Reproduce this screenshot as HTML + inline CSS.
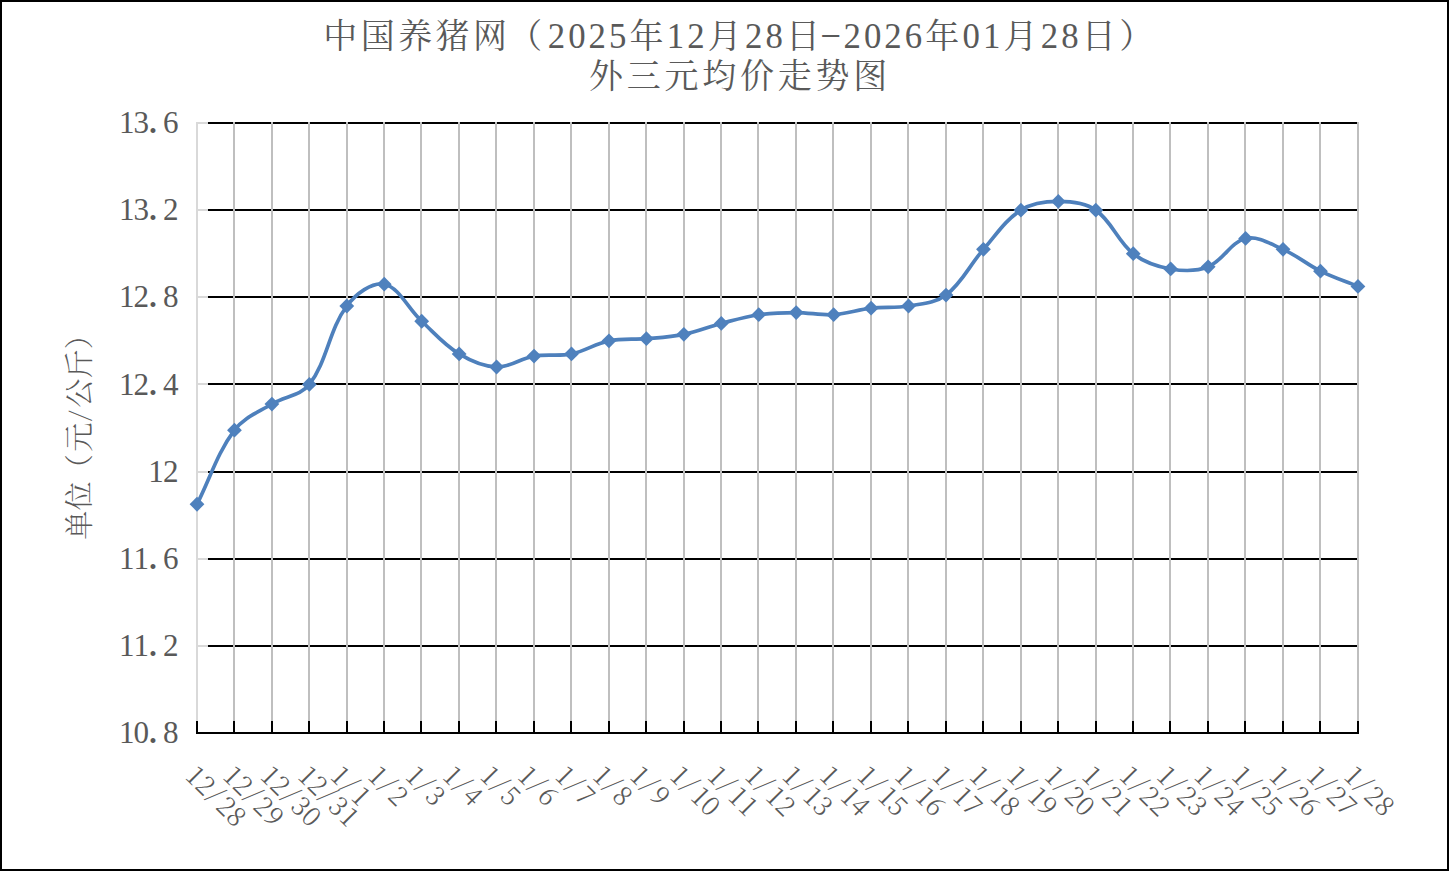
<!DOCTYPE html>
<html lang="zh"><head><meta charset="utf-8"><title>外三元均价走势图</title>
<style>html,body{margin:0;padding:0;background:#fff;}svg{display:block;}text{font-family:"Liberation Serif","Noto Serif CJK SC",serif;fill:#595959;}</style></head><body>
<svg width="1449" height="872" viewBox="0 0 1449 872">
<rect x="0" y="0" width="1449" height="872" fill="#fff"/>
<rect x="1" y="1" width="1447" height="869" fill="none" stroke="#000" stroke-width="2"/>
<rect x="208" y="122" width="1150" height="2" fill="#000"/><rect x="198" y="122" width="10" height="2" fill="#d9d9d9"/><rect x="208" y="209" width="1150" height="2" fill="#000"/><rect x="198" y="209" width="10" height="2" fill="#d9d9d9"/><rect x="208" y="296" width="1150" height="2" fill="#000"/><rect x="198" y="296" width="10" height="2" fill="#d9d9d9"/><rect x="208" y="383" width="1150" height="2" fill="#000"/><rect x="198" y="383" width="10" height="2" fill="#d9d9d9"/><rect x="208" y="471" width="1150" height="2" fill="#000"/><rect x="198" y="471" width="10" height="2" fill="#d9d9d9"/><rect x="208" y="558" width="1150" height="2" fill="#000"/><rect x="198" y="558" width="10" height="2" fill="#d9d9d9"/><rect x="208" y="645" width="1150" height="2" fill="#000"/><rect x="198" y="645" width="10" height="2" fill="#d9d9d9"/>
<rect x="233" y="122" width="2" height="599" fill="#bfbfbf"/><rect x="271" y="122" width="2" height="599" fill="#bfbfbf"/><rect x="308" y="122" width="2" height="599" fill="#bfbfbf"/><rect x="346" y="122" width="2" height="599" fill="#bfbfbf"/><rect x="383" y="122" width="2" height="599" fill="#bfbfbf"/><rect x="420" y="122" width="2" height="599" fill="#bfbfbf"/><rect x="458" y="122" width="2" height="599" fill="#bfbfbf"/><rect x="495" y="122" width="2" height="599" fill="#bfbfbf"/><rect x="533" y="122" width="2" height="599" fill="#bfbfbf"/><rect x="570" y="122" width="2" height="599" fill="#bfbfbf"/><rect x="608" y="122" width="2" height="599" fill="#bfbfbf"/><rect x="645" y="122" width="2" height="599" fill="#bfbfbf"/><rect x="683" y="122" width="2" height="599" fill="#bfbfbf"/><rect x="720" y="122" width="2" height="599" fill="#bfbfbf"/><rect x="757" y="122" width="2" height="599" fill="#bfbfbf"/><rect x="795" y="122" width="2" height="599" fill="#bfbfbf"/><rect x="832" y="122" width="2" height="599" fill="#bfbfbf"/><rect x="870" y="122" width="2" height="599" fill="#bfbfbf"/><rect x="907" y="122" width="2" height="599" fill="#bfbfbf"/><rect x="945" y="122" width="2" height="599" fill="#bfbfbf"/><rect x="982" y="122" width="2" height="599" fill="#bfbfbf"/><rect x="1020" y="122" width="2" height="599" fill="#bfbfbf"/><rect x="1057" y="122" width="2" height="599" fill="#bfbfbf"/><rect x="1095" y="122" width="2" height="599" fill="#bfbfbf"/><rect x="1132" y="122" width="2" height="599" fill="#bfbfbf"/><rect x="1169" y="122" width="2" height="599" fill="#bfbfbf"/><rect x="1207" y="122" width="2" height="599" fill="#bfbfbf"/><rect x="1244" y="122" width="2" height="599" fill="#bfbfbf"/><rect x="1282" y="122" width="2" height="599" fill="#bfbfbf"/><rect x="1319" y="122" width="2" height="599" fill="#bfbfbf"/><rect x="1357" y="122" width="2" height="599" fill="#bfbfbf"/>
<rect x="196" y="122" width="2" height="599" fill="#d9d9d9"/>
<rect x="196" y="732" width="1163" height="2" fill="#000"/><rect x="196" y="721" width="2" height="12" fill="#000"/><rect x="233" y="721" width="2" height="12" fill="#000"/><rect x="271" y="721" width="2" height="12" fill="#000"/><rect x="308" y="721" width="2" height="12" fill="#000"/><rect x="346" y="721" width="2" height="12" fill="#000"/><rect x="383" y="721" width="2" height="12" fill="#000"/><rect x="420" y="721" width="2" height="12" fill="#000"/><rect x="458" y="721" width="2" height="12" fill="#000"/><rect x="495" y="721" width="2" height="12" fill="#000"/><rect x="533" y="721" width="2" height="12" fill="#000"/><rect x="570" y="721" width="2" height="12" fill="#000"/><rect x="608" y="721" width="2" height="12" fill="#000"/><rect x="645" y="721" width="2" height="12" fill="#000"/><rect x="683" y="721" width="2" height="12" fill="#000"/><rect x="720" y="721" width="2" height="12" fill="#000"/><rect x="757" y="721" width="2" height="12" fill="#000"/><rect x="795" y="721" width="2" height="12" fill="#000"/><rect x="832" y="721" width="2" height="12" fill="#000"/><rect x="870" y="721" width="2" height="12" fill="#000"/><rect x="907" y="721" width="2" height="12" fill="#000"/><rect x="945" y="721" width="2" height="12" fill="#000"/><rect x="982" y="721" width="2" height="12" fill="#000"/><rect x="1020" y="721" width="2" height="12" fill="#000"/><rect x="1057" y="721" width="2" height="12" fill="#000"/><rect x="1095" y="721" width="2" height="12" fill="#000"/><rect x="1132" y="721" width="2" height="12" fill="#000"/><rect x="1169" y="721" width="2" height="12" fill="#000"/><rect x="1207" y="721" width="2" height="12" fill="#000"/><rect x="1244" y="721" width="2" height="12" fill="#000"/><rect x="1282" y="721" width="2" height="12" fill="#000"/><rect x="1319" y="721" width="2" height="12" fill="#000"/><rect x="1357" y="721" width="2" height="12" fill="#000"/>
<path d="M197.00 504.25C210.48 477.58 217.06 453.45 234.45 430.18C244.02 417.37 257.90 412.59 271.90 404.04C284.86 396.12 300.53 395.98 309.35 384.43C327.49 360.68 328.81 330.08 346.80 306.00C355.77 294.00 372.08 281.74 384.25 284.21C399.04 287.23 407.83 308.34 421.70 321.25C434.79 333.43 444.15 344.77 459.15 353.93C471.12 361.24 483.00 366.60 496.60 367.00C509.97 367.39 520.31 358.51 534.05 356.11C547.27 353.80 558.39 356.60 571.50 353.93C585.36 351.11 595.09 343.68 608.95 340.86C622.06 338.19 632.95 339.85 646.40 338.68C659.92 337.50 670.60 337.02 683.85 334.32C697.56 331.53 707.72 326.98 721.30 323.43C734.69 319.92 745.10 316.70 758.75 314.71C772.07 312.78 782.72 312.54 796.20 312.54C809.68 312.54 820.26 315.49 833.65 314.71C847.22 313.92 857.53 309.76 871.10 308.18C884.49 306.62 895.33 308.31 908.55 306.00C922.29 303.60 935.28 303.21 946.00 295.11C962.25 282.82 969.39 265.31 983.45 249.36C996.35 234.72 1005.12 220.24 1020.90 210.14C1032.09 202.98 1044.87 201.43 1058.35 201.43C1071.83 201.43 1084.99 202.60 1095.80 210.14C1111.95 221.42 1117.42 241.29 1133.25 253.71C1144.39 262.46 1156.71 266.52 1170.70 268.96C1183.68 271.23 1196.17 271.66 1208.15 266.79C1223.14 260.68 1230.87 241.89 1245.60 238.46C1257.83 235.62 1270.28 243.78 1283.05 249.36C1297.24 255.55 1306.55 264.25 1320.50 271.14C1333.52 277.58 1344.47 280.90 1357.95 286.39" fill="none" stroke="#4e80bc" stroke-width="3.7" stroke-linecap="round" stroke-linejoin="round"/>
<g fill="#4f81bd"><path d="M197.00 496.85l7.4 7.4l-7.4 7.4l-7.4 -7.4z"/><path d="M234.45 422.78l7.4 7.4l-7.4 7.4l-7.4 -7.4z"/><path d="M271.90 396.64l7.4 7.4l-7.4 7.4l-7.4 -7.4z"/><path d="M309.35 377.03l7.4 7.4l-7.4 7.4l-7.4 -7.4z"/><path d="M346.80 298.60l7.4 7.4l-7.4 7.4l-7.4 -7.4z"/><path d="M384.25 276.81l7.4 7.4l-7.4 7.4l-7.4 -7.4z"/><path d="M421.70 313.85l7.4 7.4l-7.4 7.4l-7.4 -7.4z"/><path d="M459.15 346.53l7.4 7.4l-7.4 7.4l-7.4 -7.4z"/><path d="M496.60 359.60l7.4 7.4l-7.4 7.4l-7.4 -7.4z"/><path d="M534.05 348.71l7.4 7.4l-7.4 7.4l-7.4 -7.4z"/><path d="M571.50 346.53l7.4 7.4l-7.4 7.4l-7.4 -7.4z"/><path d="M608.95 333.46l7.4 7.4l-7.4 7.4l-7.4 -7.4z"/><path d="M646.40 331.28l7.4 7.4l-7.4 7.4l-7.4 -7.4z"/><path d="M683.85 326.92l7.4 7.4l-7.4 7.4l-7.4 -7.4z"/><path d="M721.30 316.03l7.4 7.4l-7.4 7.4l-7.4 -7.4z"/><path d="M758.75 307.31l7.4 7.4l-7.4 7.4l-7.4 -7.4z"/><path d="M796.20 305.14l7.4 7.4l-7.4 7.4l-7.4 -7.4z"/><path d="M833.65 307.31l7.4 7.4l-7.4 7.4l-7.4 -7.4z"/><path d="M871.10 300.78l7.4 7.4l-7.4 7.4l-7.4 -7.4z"/><path d="M908.55 298.60l7.4 7.4l-7.4 7.4l-7.4 -7.4z"/><path d="M946.00 287.71l7.4 7.4l-7.4 7.4l-7.4 -7.4z"/><path d="M983.45 241.96l7.4 7.4l-7.4 7.4l-7.4 -7.4z"/><path d="M1020.90 202.74l7.4 7.4l-7.4 7.4l-7.4 -7.4z"/><path d="M1058.35 194.03l7.4 7.4l-7.4 7.4l-7.4 -7.4z"/><path d="M1095.80 202.74l7.4 7.4l-7.4 7.4l-7.4 -7.4z"/><path d="M1133.25 246.31l7.4 7.4l-7.4 7.4l-7.4 -7.4z"/><path d="M1170.70 261.56l7.4 7.4l-7.4 7.4l-7.4 -7.4z"/><path d="M1208.15 259.39l7.4 7.4l-7.4 7.4l-7.4 -7.4z"/><path d="M1245.60 231.06l7.4 7.4l-7.4 7.4l-7.4 -7.4z"/><path d="M1283.05 241.96l7.4 7.4l-7.4 7.4l-7.4 -7.4z"/><path d="M1320.50 263.74l7.4 7.4l-7.4 7.4l-7.4 -7.4z"/><path d="M1357.95 278.99l7.4 7.4l-7.4 7.4l-7.4 -7.4z"/></g>
<text y="48"><tspan x="323.2 360.67 398.14 435.61 473.08 508.16" font-size="33.99">中国养猪网（</tspan><tspan x="547.87 568.24 588.61 608.98" font-size="34.78">2025</tspan><tspan x="629.5" font-size="33.99">年</tspan><tspan x="666.82 687.19" font-size="34.78">12</tspan><tspan x="707.71" font-size="33.99">月</tspan><tspan x="745.03 765.4" font-size="34.78">28</tspan><tspan x="785.92" font-size="33.99">日</tspan><tspan x="819.8" dy="-5.75" textLength="21.89" lengthAdjust="spacingAndGlyphs" font-size="27.36">-</tspan><tspan x="843.61 863.98 884.35 904.72" dy="5.75" font-size="34.78">2026</tspan><tspan x="925.24" font-size="33.99">年</tspan><tspan x="962.56 982.93" font-size="34.78">01</tspan><tspan x="1003.45" font-size="33.99">月</tspan><tspan x="1040.77 1061.14" font-size="34.78">28</tspan><tspan x="1081.66 1119.13" font-size="33.99">日）</tspan></text>
<text y="87.6"><tspan x="588.9 626.68 664.46 702.24 740.02 777.8 815.58 853.36" font-size="33.99">外三元均价走势图</tspan></text>
<text y="133.2"><tspan x="118.9 133.57" font-size="31.09">13</tspan><tspan x="147.85" font-size="41.65">.</tspan><tspan x="162.9" font-size="31.09">6</tspan></text>
<text y="220.34"><tspan x="118.9 133.57" font-size="31.09">13</tspan><tspan x="147.85" font-size="41.65">.</tspan><tspan x="162.9" font-size="31.09">2</tspan></text>
<text y="307.49"><tspan x="118.9 133.57" font-size="31.09">12</tspan><tspan x="147.85" font-size="41.65">.</tspan><tspan x="162.9" font-size="31.09">8</tspan></text>
<text y="394.63"><tspan x="118.9 133.57" font-size="31.09">12</tspan><tspan x="147.85" font-size="41.65">.</tspan><tspan x="162.9" font-size="31.09">4</tspan></text>
<text y="481.77"><tspan x="148.23 162.9" font-size="31.09">12</tspan></text>
<text y="568.91"><tspan x="118.9 133.57" font-size="31.09">11</tspan><tspan x="147.85" font-size="41.65">.</tspan><tspan x="162.9" font-size="31.09">6</tspan></text>
<text y="656.06"><tspan x="118.9 133.57" font-size="31.09">11</tspan><tspan x="147.85" font-size="41.65">.</tspan><tspan x="162.9" font-size="31.09">2</tspan></text>
<text y="743.2"><tspan x="118.9 133.57" font-size="31.09">10</tspan><tspan x="147.85" font-size="41.65">.</tspan><tspan x="162.9" font-size="31.09">8</tspan></text>
<g transform="translate(90.2,539.8) rotate(-90)"><text y="0" font-weight="300"><tspan x="0 29.33 56.61 87.99" font-size="29.15">单位（元</tspan><tspan x="119.08" dy="-2.7" rotate="5" font-family="'Noto Serif CJK SC',serif" font-weight="300" font-size="25.52">/</tspan><tspan x="131.98 161.31 190.64" dy="2.7" font-size="29.15">公斤）</tspan></text></g>
<g transform="translate(183.1,776.5) rotate(45)"><text y="0"><tspan x="1.77 14.97" font-family="'Noto Serif CJK SC',serif" font-weight="300" font-size="25.99">12</tspan><tspan x="31.09" dy="-2.7" rotate="5" font-family="'Noto Serif CJK SC',serif" font-weight="300" font-size="25.52">/</tspan><tspan x="44.3 58.96" dy="2.7" font-family="'Noto Serif CJK SC',serif" font-weight="300" font-size="25.99">28</tspan></text></g>
<g transform="translate(220.55,776.5) rotate(45)"><text y="0"><tspan x="1.77 14.97" font-family="'Noto Serif CJK SC',serif" font-weight="300" font-size="25.99">12</tspan><tspan x="31.09" dy="-2.7" rotate="5" font-family="'Noto Serif CJK SC',serif" font-weight="300" font-size="25.52">/</tspan><tspan x="44.3 58.96" dy="2.7" font-family="'Noto Serif CJK SC',serif" font-weight="300" font-size="25.99">29</tspan></text></g>
<g transform="translate(258,776.5) rotate(45)"><text y="0"><tspan x="1.77 14.97" font-family="'Noto Serif CJK SC',serif" font-weight="300" font-size="25.99">12</tspan><tspan x="31.09" dy="-2.7" rotate="5" font-family="'Noto Serif CJK SC',serif" font-weight="300" font-size="25.52">/</tspan><tspan x="44.3 58.96" dy="2.7" font-family="'Noto Serif CJK SC',serif" font-weight="300" font-size="25.99">30</tspan></text></g>
<g transform="translate(295.45,776.5) rotate(45)"><text y="0"><tspan x="1.77 14.97" font-family="'Noto Serif CJK SC',serif" font-weight="300" font-size="25.99">12</tspan><tspan x="31.09" dy="-2.7" rotate="5" font-family="'Noto Serif CJK SC',serif" font-weight="300" font-size="25.52">/</tspan><tspan x="44.3 60.43" dy="2.7" font-family="'Noto Serif CJK SC',serif" font-weight="300" font-size="25.99">31</tspan></text></g>
<g transform="translate(328,776.5) rotate(45)"><text y="0"><tspan x="1.77" font-family="'Noto Serif CJK SC',serif" font-weight="300" font-size="25.99">1</tspan><tspan x="16.42" dy="-2.7" rotate="5" font-family="'Noto Serif CJK SC',serif" font-weight="300" font-size="25.52">/</tspan><tspan x="31.1" dy="2.7" font-family="'Noto Serif CJK SC',serif" font-weight="300" font-size="25.99">1</tspan></text></g>
<g transform="translate(365.45,776.5) rotate(45)"><text y="0"><tspan x="1.77" font-family="'Noto Serif CJK SC',serif" font-weight="300" font-size="25.99">1</tspan><tspan x="16.42" dy="-2.7" rotate="5" font-family="'Noto Serif CJK SC',serif" font-weight="300" font-size="25.52">/</tspan><tspan x="29.63" dy="2.7" font-family="'Noto Serif CJK SC',serif" font-weight="300" font-size="25.99">2</tspan></text></g>
<g transform="translate(402.9,776.5) rotate(45)"><text y="0"><tspan x="1.77" font-family="'Noto Serif CJK SC',serif" font-weight="300" font-size="25.99">1</tspan><tspan x="16.42" dy="-2.7" rotate="5" font-family="'Noto Serif CJK SC',serif" font-weight="300" font-size="25.52">/</tspan><tspan x="29.63" dy="2.7" font-family="'Noto Serif CJK SC',serif" font-weight="300" font-size="25.99">3</tspan></text></g>
<g transform="translate(440.35,776.5) rotate(45)"><text y="0"><tspan x="1.77" font-family="'Noto Serif CJK SC',serif" font-weight="300" font-size="25.99">1</tspan><tspan x="16.42" dy="-2.7" rotate="5" font-family="'Noto Serif CJK SC',serif" font-weight="300" font-size="25.52">/</tspan><tspan x="29.63" dy="2.7" font-family="'Noto Serif CJK SC',serif" font-weight="300" font-size="25.99">4</tspan></text></g>
<g transform="translate(477.8,776.5) rotate(45)"><text y="0"><tspan x="1.77" font-family="'Noto Serif CJK SC',serif" font-weight="300" font-size="25.99">1</tspan><tspan x="16.42" dy="-2.7" rotate="5" font-family="'Noto Serif CJK SC',serif" font-weight="300" font-size="25.52">/</tspan><tspan x="29.63" dy="2.7" font-family="'Noto Serif CJK SC',serif" font-weight="300" font-size="25.99">5</tspan></text></g>
<g transform="translate(515.25,776.5) rotate(45)"><text y="0"><tspan x="1.77" font-family="'Noto Serif CJK SC',serif" font-weight="300" font-size="25.99">1</tspan><tspan x="16.42" dy="-2.7" rotate="5" font-family="'Noto Serif CJK SC',serif" font-weight="300" font-size="25.52">/</tspan><tspan x="29.63" dy="2.7" font-family="'Noto Serif CJK SC',serif" font-weight="300" font-size="25.99">6</tspan></text></g>
<g transform="translate(552.7,776.5) rotate(45)"><text y="0"><tspan x="1.77" font-family="'Noto Serif CJK SC',serif" font-weight="300" font-size="25.99">1</tspan><tspan x="16.42" dy="-2.7" rotate="5" font-family="'Noto Serif CJK SC',serif" font-weight="300" font-size="25.52">/</tspan><tspan x="29.63" dy="2.7" font-family="'Noto Serif CJK SC',serif" font-weight="300" font-size="25.99">7</tspan></text></g>
<g transform="translate(590.15,776.5) rotate(45)"><text y="0"><tspan x="1.77" font-family="'Noto Serif CJK SC',serif" font-weight="300" font-size="25.99">1</tspan><tspan x="16.42" dy="-2.7" rotate="5" font-family="'Noto Serif CJK SC',serif" font-weight="300" font-size="25.52">/</tspan><tspan x="29.63" dy="2.7" font-family="'Noto Serif CJK SC',serif" font-weight="300" font-size="25.99">8</tspan></text></g>
<g transform="translate(627.6,776.5) rotate(45)"><text y="0"><tspan x="1.77" font-family="'Noto Serif CJK SC',serif" font-weight="300" font-size="25.99">1</tspan><tspan x="16.42" dy="-2.7" rotate="5" font-family="'Noto Serif CJK SC',serif" font-weight="300" font-size="25.52">/</tspan><tspan x="29.63" dy="2.7" font-family="'Noto Serif CJK SC',serif" font-weight="300" font-size="25.99">9</tspan></text></g>
<g transform="translate(667.5,776.5) rotate(45)"><text y="0"><tspan x="1.77" font-family="'Noto Serif CJK SC',serif" font-weight="300" font-size="25.99">1</tspan><tspan x="16.42" dy="-2.7" rotate="5" font-family="'Noto Serif CJK SC',serif" font-weight="300" font-size="25.52">/</tspan><tspan x="31.1 44.3" dy="2.7" font-family="'Noto Serif CJK SC',serif" font-weight="300" font-size="25.99">10</tspan></text></g>
<g transform="translate(704.95,776.5) rotate(45)"><text y="0"><tspan x="1.77" font-family="'Noto Serif CJK SC',serif" font-weight="300" font-size="25.99">1</tspan><tspan x="16.42" dy="-2.7" rotate="5" font-family="'Noto Serif CJK SC',serif" font-weight="300" font-size="25.52">/</tspan><tspan x="31.1 45.76" dy="2.7" font-family="'Noto Serif CJK SC',serif" font-weight="300" font-size="25.99">11</tspan></text></g>
<g transform="translate(742.4,776.5) rotate(45)"><text y="0"><tspan x="1.77" font-family="'Noto Serif CJK SC',serif" font-weight="300" font-size="25.99">1</tspan><tspan x="16.42" dy="-2.7" rotate="5" font-family="'Noto Serif CJK SC',serif" font-weight="300" font-size="25.52">/</tspan><tspan x="31.1 44.3" dy="2.7" font-family="'Noto Serif CJK SC',serif" font-weight="300" font-size="25.99">12</tspan></text></g>
<g transform="translate(779.85,776.5) rotate(45)"><text y="0"><tspan x="1.77" font-family="'Noto Serif CJK SC',serif" font-weight="300" font-size="25.99">1</tspan><tspan x="16.42" dy="-2.7" rotate="5" font-family="'Noto Serif CJK SC',serif" font-weight="300" font-size="25.52">/</tspan><tspan x="31.1 44.3" dy="2.7" font-family="'Noto Serif CJK SC',serif" font-weight="300" font-size="25.99">13</tspan></text></g>
<g transform="translate(817.3,776.5) rotate(45)"><text y="0"><tspan x="1.77" font-family="'Noto Serif CJK SC',serif" font-weight="300" font-size="25.99">1</tspan><tspan x="16.42" dy="-2.7" rotate="5" font-family="'Noto Serif CJK SC',serif" font-weight="300" font-size="25.52">/</tspan><tspan x="31.1 44.3" dy="2.7" font-family="'Noto Serif CJK SC',serif" font-weight="300" font-size="25.99">14</tspan></text></g>
<g transform="translate(854.75,776.5) rotate(45)"><text y="0"><tspan x="1.77" font-family="'Noto Serif CJK SC',serif" font-weight="300" font-size="25.99">1</tspan><tspan x="16.42" dy="-2.7" rotate="5" font-family="'Noto Serif CJK SC',serif" font-weight="300" font-size="25.52">/</tspan><tspan x="31.1 44.3" dy="2.7" font-family="'Noto Serif CJK SC',serif" font-weight="300" font-size="25.99">15</tspan></text></g>
<g transform="translate(892.2,776.5) rotate(45)"><text y="0"><tspan x="1.77" font-family="'Noto Serif CJK SC',serif" font-weight="300" font-size="25.99">1</tspan><tspan x="16.42" dy="-2.7" rotate="5" font-family="'Noto Serif CJK SC',serif" font-weight="300" font-size="25.52">/</tspan><tspan x="31.1 44.3" dy="2.7" font-family="'Noto Serif CJK SC',serif" font-weight="300" font-size="25.99">16</tspan></text></g>
<g transform="translate(929.65,776.5) rotate(45)"><text y="0"><tspan x="1.77" font-family="'Noto Serif CJK SC',serif" font-weight="300" font-size="25.99">1</tspan><tspan x="16.42" dy="-2.7" rotate="5" font-family="'Noto Serif CJK SC',serif" font-weight="300" font-size="25.52">/</tspan><tspan x="31.1 44.3" dy="2.7" font-family="'Noto Serif CJK SC',serif" font-weight="300" font-size="25.99">17</tspan></text></g>
<g transform="translate(967.1,776.5) rotate(45)"><text y="0"><tspan x="1.77" font-family="'Noto Serif CJK SC',serif" font-weight="300" font-size="25.99">1</tspan><tspan x="16.42" dy="-2.7" rotate="5" font-family="'Noto Serif CJK SC',serif" font-weight="300" font-size="25.52">/</tspan><tspan x="31.1 44.3" dy="2.7" font-family="'Noto Serif CJK SC',serif" font-weight="300" font-size="25.99">18</tspan></text></g>
<g transform="translate(1004.55,776.5) rotate(45)"><text y="0"><tspan x="1.77" font-family="'Noto Serif CJK SC',serif" font-weight="300" font-size="25.99">1</tspan><tspan x="16.42" dy="-2.7" rotate="5" font-family="'Noto Serif CJK SC',serif" font-weight="300" font-size="25.52">/</tspan><tspan x="31.1 44.3" dy="2.7" font-family="'Noto Serif CJK SC',serif" font-weight="300" font-size="25.99">19</tspan></text></g>
<g transform="translate(1042,776.5) rotate(45)"><text y="0"><tspan x="1.77" font-family="'Noto Serif CJK SC',serif" font-weight="300" font-size="25.99">1</tspan><tspan x="16.42" dy="-2.7" rotate="5" font-family="'Noto Serif CJK SC',serif" font-weight="300" font-size="25.52">/</tspan><tspan x="29.63 44.3" dy="2.7" font-family="'Noto Serif CJK SC',serif" font-weight="300" font-size="25.99">20</tspan></text></g>
<g transform="translate(1079.45,776.5) rotate(45)"><text y="0"><tspan x="1.77" font-family="'Noto Serif CJK SC',serif" font-weight="300" font-size="25.99">1</tspan><tspan x="16.42" dy="-2.7" rotate="5" font-family="'Noto Serif CJK SC',serif" font-weight="300" font-size="25.52">/</tspan><tspan x="29.63 45.76" dy="2.7" font-family="'Noto Serif CJK SC',serif" font-weight="300" font-size="25.99">21</tspan></text></g>
<g transform="translate(1116.9,776.5) rotate(45)"><text y="0"><tspan x="1.77" font-family="'Noto Serif CJK SC',serif" font-weight="300" font-size="25.99">1</tspan><tspan x="16.42" dy="-2.7" rotate="5" font-family="'Noto Serif CJK SC',serif" font-weight="300" font-size="25.52">/</tspan><tspan x="29.63 44.3" dy="2.7" font-family="'Noto Serif CJK SC',serif" font-weight="300" font-size="25.99">22</tspan></text></g>
<g transform="translate(1154.35,776.5) rotate(45)"><text y="0"><tspan x="1.77" font-family="'Noto Serif CJK SC',serif" font-weight="300" font-size="25.99">1</tspan><tspan x="16.42" dy="-2.7" rotate="5" font-family="'Noto Serif CJK SC',serif" font-weight="300" font-size="25.52">/</tspan><tspan x="29.63 44.3" dy="2.7" font-family="'Noto Serif CJK SC',serif" font-weight="300" font-size="25.99">23</tspan></text></g>
<g transform="translate(1191.8,776.5) rotate(45)"><text y="0"><tspan x="1.77" font-family="'Noto Serif CJK SC',serif" font-weight="300" font-size="25.99">1</tspan><tspan x="16.42" dy="-2.7" rotate="5" font-family="'Noto Serif CJK SC',serif" font-weight="300" font-size="25.52">/</tspan><tspan x="29.63 44.3" dy="2.7" font-family="'Noto Serif CJK SC',serif" font-weight="300" font-size="25.99">24</tspan></text></g>
<g transform="translate(1229.25,776.5) rotate(45)"><text y="0"><tspan x="1.77" font-family="'Noto Serif CJK SC',serif" font-weight="300" font-size="25.99">1</tspan><tspan x="16.42" dy="-2.7" rotate="5" font-family="'Noto Serif CJK SC',serif" font-weight="300" font-size="25.52">/</tspan><tspan x="29.63 44.3" dy="2.7" font-family="'Noto Serif CJK SC',serif" font-weight="300" font-size="25.99">25</tspan></text></g>
<g transform="translate(1266.7,776.5) rotate(45)"><text y="0"><tspan x="1.77" font-family="'Noto Serif CJK SC',serif" font-weight="300" font-size="25.99">1</tspan><tspan x="16.42" dy="-2.7" rotate="5" font-family="'Noto Serif CJK SC',serif" font-weight="300" font-size="25.52">/</tspan><tspan x="29.63 44.3" dy="2.7" font-family="'Noto Serif CJK SC',serif" font-weight="300" font-size="25.99">26</tspan></text></g>
<g transform="translate(1304.15,776.5) rotate(45)"><text y="0"><tspan x="1.77" font-family="'Noto Serif CJK SC',serif" font-weight="300" font-size="25.99">1</tspan><tspan x="16.42" dy="-2.7" rotate="5" font-family="'Noto Serif CJK SC',serif" font-weight="300" font-size="25.52">/</tspan><tspan x="29.63 44.3" dy="2.7" font-family="'Noto Serif CJK SC',serif" font-weight="300" font-size="25.99">27</tspan></text></g>
<g transform="translate(1341.6,776.5) rotate(45)"><text y="0"><tspan x="1.77" font-family="'Noto Serif CJK SC',serif" font-weight="300" font-size="25.99">1</tspan><tspan x="16.42" dy="-2.7" rotate="5" font-family="'Noto Serif CJK SC',serif" font-weight="300" font-size="25.52">/</tspan><tspan x="29.63 44.3" dy="2.7" font-family="'Noto Serif CJK SC',serif" font-weight="300" font-size="25.99">28</tspan></text></g>
</svg></body></html>
